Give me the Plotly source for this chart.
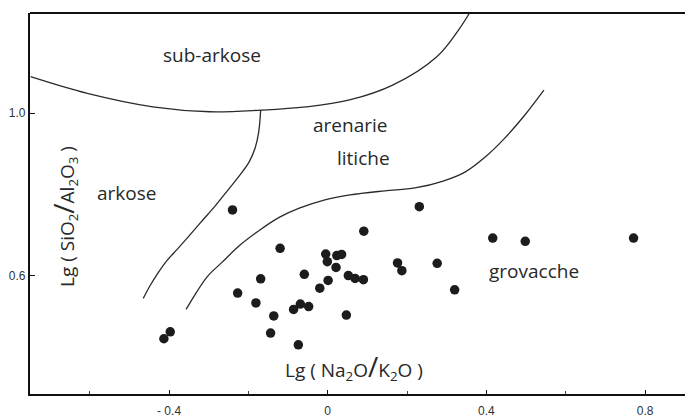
import plotly.graph_objects as go

# Sample points: Lg(Na2O/K2O), Lg(SiO2/Al2O3)
pts_x = [-0.240, -0.120, -0.005, -0.001, 0.023, 0.035, 0.021, -0.059, -0.169, 0.001,
         0.052, 0.069, 0.090, -0.227, -0.020, -0.181, -0.086, -0.069, -0.048, -0.136,
         0.047, -0.397, -0.413, -0.144, -0.074, 0.231, 0.091, 0.416, 0.498, 0.771,
         0.176, 0.187, 0.276, 0.320]
pts_y = [0.762, 0.668, 0.654, 0.635, 0.650, 0.653, 0.621, 0.604, 0.593, 0.589,
         0.601, 0.594, 0.591, 0.558, 0.570, 0.534, 0.518, 0.531, 0.525, 0.502,
         0.504, 0.463, 0.446, 0.460, 0.431, 0.770, 0.710, 0.693, 0.685, 0.693,
         0.632, 0.613, 0.631, 0.566]

# Field boundaries
sub_x = [-0.749, -0.606, -0.441, -0.297, -0.169, -0.055, 0.055, 0.165, 0.275, 0.330, 0.358]
sub_y = [1.089, 1.048, 1.015, 1.003, 1.007, 1.015, 1.032, 1.069, 1.138, 1.204, 1.246]

ark_x = [-0.169, -0.174, -0.183, -0.198, -0.221, -0.249, -0.282, -0.317, -0.350, -0.379,
         -0.406, -0.428, -0.448, -0.465]
ark_y = [1.007, 0.953, 0.914, 0.880, 0.848, 0.814, 0.774, 0.735, 0.698, 0.666,
         0.637, 0.607, 0.576, 0.545]

lit_x = [0.545, 0.497, 0.447, 0.397, 0.346, 0.291, 0.220, 0.144, 0.056, -0.007, -0.070, -0.120,
         -0.171, -0.221, -0.266, -0.304, -0.332, -0.357]
lit_y = [1.056, 0.995, 0.939, 0.892, 0.855, 0.833, 0.816, 0.809, 0.799, 0.787, 0.767, 0.745,
         0.713, 0.676, 0.634, 0.598, 0.558, 0.518]

x_tickvals = [-0.4, 0, 0.4, 0.8]
x_ticktext = ["- 0.4", "0", "0.4", "0.8"]
y_tickvals = [0.6, 1.0]
y_ticktext = ["0.6", "1.0"]

field_names = ["sub-arkose", "arenarie", "litiche", "arkose", "grovacche"]
field_x = [-0.291, 0.056, 0.089, -0.506, 0.520]
field_y = [1.142, 0.971, 0.890, 0.804, 0.612]

INK = "#1c1c1c"
FONT = "Open Sans"
TXT = "#282828"

fig = go.Figure()
for cx, cy in [(sub_x, sub_y), (ark_x, ark_y), (lit_x, lit_y)]:
    fig.add_trace(go.Scatter(x=cx, y=cy, mode="lines",
                             line=dict(color="#2a2a2a", width=1.3, shape="spline", smoothing=1.0),
                             hoverinfo="skip", showlegend=False))

fig.add_trace(go.Scatter(x=pts_x, y=pts_y, mode="markers",
                         marker=dict(color=INK, size=9.5, line=dict(width=0)),
                         showlegend=False))

for name, fx, fy in zip(field_names, field_x, field_y):
    fig.add_annotation(x=fx, y=fy, xref="x", yref="y", text=name, showarrow=False,
                       font=dict(family=FONT, size=19, color=TXT))

fig.add_annotation(x=0.066, y=0.3104, xref="x", yref="y", yanchor="bottom", yshift=7,
                   text='Lg ( Na<sub>2</sub>O<span style="font-size:28px">/</span>K<sub>2</sub>O )',
                   showarrow=False, font=dict(family=FONT, size=19, color=TXT))

pw, ph = 685 - 30 - 0, 417 - 13 - 23
fig.add_annotation(x=(63 - 30) / pw, y=(417 - 23 - 217) / ph, xref="paper", yref="paper",
                   xanchor="center", yanchor="middle",
                   text='Lg ( SiO<sub>2</sub><span style="font-size:28px">/</span>Al<sub>2</sub>O<sub>3</sub> )',
                   textangle=-90, showarrow=False, font=dict(family=FONT, size=19, color=TXT))

fig.add_shape(type="line", xref="paper", yref="paper", x0=0, x1=1, y0=1, y1=1,
              line=dict(color="#111", width=2.2))

fig.update_layout(
    width=685, height=417,
    margin=dict(l=30, r=0, t=13, b=23),
    paper_bgcolor="white", plot_bgcolor="white",
    xaxis=dict(range=[-0.7505, 0.9007], showgrid=False, zeroline=False,
               showline=True, linecolor="#111", linewidth=2.2,
               ticks="inside", ticklen=4, tickcolor="#111", tickwidth=1,
               tickvals=x_tickvals, ticktext=x_ticktext, ticklabelstandoff=4,
               minor=dict(dtick=0.2, tick0=0, ticks="inside", ticklen=3, tickcolor="#444"),
               tickfont=dict(family="Liberation Sans", size=12, color="#333")),
    yaxis=dict(range=[0.3104, 1.2454], showgrid=False, zeroline=False,
               showline=True, linecolor="#111", linewidth=2.2,
               ticks="inside", ticklen=5, tickcolor="#111", tickwidth=1,
               tickvals=y_tickvals, ticktext=y_ticktext,
               tickfont=dict(family="Liberation Sans", size=12, color="#333")),
)

fig.write_html("out.html")
